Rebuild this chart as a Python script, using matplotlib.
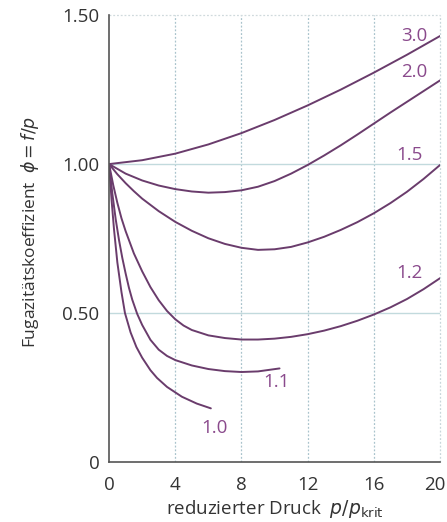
# Fugazitaetskoeffizient vs. reduzierter Druck

import numpy as np
import matplotlib.pyplot as plt

# Values (x = p/p_krit, y = phi)
x_30 = [0, 2, 4, 6, 8, 10, 12, 14, 16, 18, 20]
y_30 = [1.0, 1.013, 1.035, 1.066, 1.104, 1.148, 1.197, 1.25, 1.307, 1.367, 1.43]

x_20 = [0, 1, 2, 3, 4, 5, 6, 7, 8, 9, 10, 11, 12, 13, 14, 15, 16, 17, 18, 19, 20]
y_20 = [1.0, 0.968, 0.945, 0.928, 0.916, 0.908, 0.904, 0.906, 0.912, 0.924, 0.943,
        0.968, 0.997, 1.029, 1.063, 1.099, 1.136, 1.173, 1.209, 1.245, 1.281]

x_15 = [0, 0.5, 1, 1.5, 2, 3, 4, 5, 6, 7, 8, 9, 10, 11, 12, 13, 14, 15, 16, 17, 18, 19, 20]
y_15 = [1.0, 0.966, 0.936, 0.909, 0.884, 0.842, 0.806, 0.776, 0.751, 0.732, 0.719, 0.712,
        0.714, 0.722, 0.737, 0.756, 0.779, 0.805, 0.835, 0.869, 0.907, 0.95, 0.997]

x_12 = [0, 0.25, 0.5, 0.75, 1, 1.5, 2, 2.5, 3, 3.5, 4, 4.5, 5, 6, 7, 8, 9, 10, 11, 12,
        13, 14, 15, 16, 17, 18, 19, 20]
y_12 = [1.0, 0.93, 0.87, 0.818, 0.775, 0.70, 0.64, 0.587, 0.543, 0.507, 0.479, 0.458,
        0.443, 0.425, 0.416, 0.411, 0.411, 0.414, 0.42, 0.429, 0.441, 0.456, 0.474,
        0.495, 0.519, 0.547, 0.58, 0.617]

x_11 = [0, 0.2, 0.4, 0.6, 0.8, 1.0, 1.2, 1.4, 1.7, 2.0, 2.5, 3.0, 3.5, 4.0, 5, 6, 7, 8, 9, 10.3]
y_11 = [1.0, 0.90, 0.815, 0.745, 0.685, 0.633, 0.585, 0.545, 0.497, 0.46, 0.41, 0.377,
        0.356, 0.342, 0.324, 0.312, 0.305, 0.302, 0.304, 0.314]

x_10 = [0, 0.15, 0.3, 0.5, 0.75, 0.96, 1.3, 1.65, 2.0, 2.5, 2.9, 3.5, 4.4, 5.3, 6.15]
y_10 = [1.0, 0.88, 0.78, 0.67, 0.57, 0.50, 0.435, 0.386, 0.35, 0.308, 0.282, 0.252,
        0.219, 0.196, 0.18]

curves = [(x_30, y_30), (x_20, y_20), (x_15, y_15), (x_12, y_12), (x_11, y_11), (x_10, y_10)]

labels = ['3.0', '2.0', '1.5', '1.2', '1.1', '1.0']
label_x = [18.45, 18.45, 18.15, 18.15, 10.1, 6.35]
label_y = [1.43, 1.308, 1.029, 0.634, 0.27, 0.115]

line_color = '#6a3c6c'
label_color = '#8a4a8c'

fig = plt.figure(figsize=(4.47, 5.22), dpi=100)
ax = fig.add_axes([0.244, 0.115, 0.7405, 0.856])

for cx, cy in curves:
    ax.plot(cx, cy, color=line_color, lw=1.4, solid_capstyle='round',
            solid_joinstyle='round')

for t, lx, ly in zip(labels, label_x, label_y):
    ax.text(lx, ly, t, color=label_color, fontsize=13.5, ha='center', va='center',
            family='Open Sans')

ax.set_xlim(0, 20)
ax.set_ylim(0, 1.5)
ax.set_xticks([0, 4, 8, 12, 16])
ax.set_xticklabels(['0', '4', '8', '12', '16'])
ax.set_yticks([0, 0.5, 1.0, 1.5])
ax.set_yticklabels(['0', '0.50', '1.00', '1.50'])

# last x tick label sits on the right edge, nudge it inwards a little
ax.annotate('20', xy=(20, 0), xytext=(-4, -10), textcoords='offset points',
            ha='center', va='top', fontsize=13.5, color='#333333', family='Open Sans',
            annotation_clip=False)

for gx in [4, 8, 12, 16]:
    ax.axvline(gx, color='#a9c3cc', lw=0.9, ls=(0, (1.5, 1.5)), zorder=0)
ax.axvline(20, color='#c8d6da', lw=0.9, ls=(0, (1.5, 1.5)), zorder=0, clip_on=False)
for gy in [0.5, 1.0]:
    ax.axhline(gy, color='#c2dadd', lw=1.0, zorder=0)
ax.axhline(1.5, color='#d0dadd', lw=0.9, ls=(0, (1.5, 1.5)), zorder=0, clip_on=False)

for s in ['top', 'right']:
    ax.spines[s].set_visible(False)
for s in ['left', 'bottom']:
    ax.spines[s].set_color('#555555')
    ax.spines[s].set_linewidth(1.2)

ax.tick_params(length=0, labelsize=13.5, colors='#333333')
ax.tick_params(axis='x', pad=10)
ax.tick_params(axis='y', pad=7)
for lab in ax.get_xticklabels() + ax.get_yticklabels():
    lab.set_family('Open Sans')

ax.set_xlabel(r'reduzierter Druck  $p/p_{\mathrm{krit}}$', fontsize=13.5,
              color='#333333', family='Open Sans', labelpad=0)
ax.xaxis.set_label_coords(0.5, -0.08)
ax.set_ylabel(r'Fugazitätskoeffizient  $\phi = f/p$', fontsize=12.5,
              color='#333333', family='Open Sans')
ax.yaxis.set_label_coords(-0.205, 0.515)

plt.savefig('out.png', dpi=100)
